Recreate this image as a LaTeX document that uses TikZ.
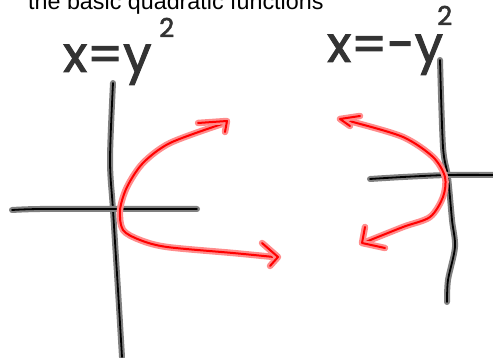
\documentclass[tikz,border=0pt]{standalone}
\usepackage{fontspec}
\setmainfont{Liberation Sans}
\newfontfamily\handfont[FakeBold=2]{Poppins}

\begin{document}
\begin{tikzpicture}[x=1pt, y=-1pt,
    pen/.style={line cap=round, line join=round},
    axisline/.style={pen, black, line width=1.8pt, preaction={draw=black!50, line width=6pt, pen}},
    redline/.style={pen, red, line width=2pt, preaction={draw=red!45, line width=6.5pt, pen}},
    hand/.style={font=\handfont\fontsize{50}{50}\selectfont, inner sep=0pt, anchor=base west, text=black!80},
    sup/.style={font=\handfont\fontsize{26}{26}\selectfont, inner sep=0pt, anchor=base west, text=black!80}]
  % page is 493 x 358, one unit per pixel, y runs downwards
  \useasboundingbox (0,0) rectangle (493,358);
  \node[anchor=base west, inner sep=0pt, font=\fontsize{23.3}{28}\selectfont] (title) at (28,10) {the basic quadratic functions};

  % x = y^2 : opens to the right
  \node[hand] (lefteq) at (63,72) {x=y};
  \node[sup] (leftsq) at (159,37) {2};
  \draw[axisline] plot[smooth, tension=0.5] coordinates {(113,83) (110,160) (113,210) (118,290) (122,357)};
  \draw[axisline] plot[smooth, tension=0.5] coordinates {(12,210) (40,209) (120,209) (197,209)};
  \draw[redline] plot[smooth] coordinates {(222,124) (170,143) (143,163) (127,187) (120,210) (123,230) (140,240) (167,247) (233,253) (274,257)};
  \draw[redline] (198,123) -- (227,121) -- (225,132);
  \draw[redline] (262,243) -- (278,257) -- (270,266);

  % x = -y^2 : opens to the left
  \node[hand] (righteq) at (327,62) {x=-y};
  \node[sup] (rightsq) at (437,25) {2};
  \draw[axisline] plot[smooth, tension=0.5] coordinates {(440,60) (443,147) (448,177) (452,220) (455,247) (448,280) (447,302)};
  \draw[axisline] plot[smooth, tension=0.5] coordinates {(370,179) (403,177) (448,175) (497,175)};
  \draw[redline] plot[smooth] coordinates {(343,120) (353,122) (403,137) (433,157) (445,177) (443,197) (430,217) (403,227) (363,243)};
  \draw[redline] (360,116) -- (340,119) -- (350,126);
  \draw[redline] (365,227) -- (362,243) -- (385,248);
\end{tikzpicture}
\end{document}
